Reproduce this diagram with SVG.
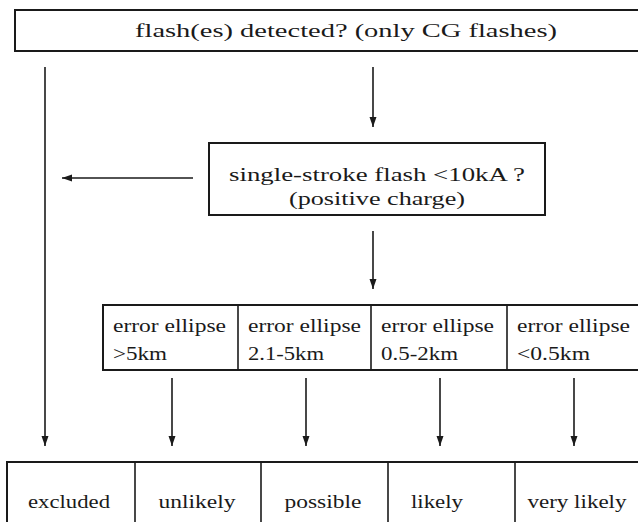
<svg xmlns="http://www.w3.org/2000/svg" width="638" height="522" viewBox="0 0 638 522">
<style>
.box{fill:#fff;stroke:#1a1a1a;stroke-width:2}
.ln{fill:none;stroke:#1a1a1a;stroke-width:1.6}
.tx{font-size:18px;fill:#1a1a1a}
.c{text-anchor:middle}
</style>
<defs>
<marker id="ah" viewBox="0 0 10 10" refX="10" refY="5" markerWidth="11" markerHeight="10" markerUnits="userSpaceOnUse" orient="auto">
<path d="M0,1.5 L10,5 L0,8.5 Z" fill="#1a1a1a"/>
</marker>
</defs>
<g id="connectors">
<line class="ln" x1="45" y1="67" x2="45" y2="446" marker-end="url(#ah)"/>
<line class="ln" x1="373" y1="67" x2="373" y2="127" marker-end="url(#ah)"/>
<line class="ln" x1="193" y1="178" x2="62" y2="178" marker-end="url(#ah)"/>
<line class="ln" x1="373" y1="231" x2="373" y2="289" marker-end="url(#ah)"/>
<line class="ln" x1="172" y1="378" x2="172" y2="446" marker-end="url(#ah)"/>
<line class="ln" x1="306" y1="378" x2="306" y2="446" marker-end="url(#ah)"/>
<line class="ln" x1="440" y1="378" x2="440" y2="446" marker-end="url(#ah)"/>
<line class="ln" x1="574" y1="378" x2="574" y2="446" marker-end="url(#ah)"/>
</g>
<g class="tx" font-family="Liberation Serif, Times New Roman, Times, DejaVu Serif, FreeSerif, serif">
<g id="flash-detected">
<rect class="box" x="15" y="10" width="640" height="41"/>
<text class="c" x="346" y="37" textLength="422" lengthAdjust="spacingAndGlyphs">flash(es) detected? (only CG flashes)</text>
</g>
<g id="single-stroke">
<rect class="box" x="209" y="143" width="336" height="72"/>
<text class="c" x="377" y="181" textLength="296" lengthAdjust="spacingAndGlyphs">single-stroke flash &lt;10kA ?</text>
<text class="c" x="377" y="205" textLength="176" lengthAdjust="spacingAndGlyphs">(positive charge)</text>
</g>
<g id="error-ellipse">
<rect class="box" x="103" y="305" width="540" height="65"/>
<line class="ln" x1="238" y1="305" x2="238" y2="370"/>
<line class="ln" x1="371" y1="305" x2="371" y2="370"/>
<line class="ln" x1="507" y1="305" x2="507" y2="370"/>
<text x="113" y="332" textLength="113" lengthAdjust="spacingAndGlyphs">error ellipse</text>
<text x="113" y="360" textLength="54" lengthAdjust="spacingAndGlyphs">&gt;5km</text>
<text x="248" y="332" textLength="113" lengthAdjust="spacingAndGlyphs">error ellipse</text>
<text x="248" y="360" textLength="76" lengthAdjust="spacingAndGlyphs">2.1-5km</text>
<text x="381" y="332" textLength="113" lengthAdjust="spacingAndGlyphs">error ellipse</text>
<text x="381" y="360" textLength="77" lengthAdjust="spacingAndGlyphs">0.5-2km</text>
<text x="517" y="332" textLength="113" lengthAdjust="spacingAndGlyphs">error ellipse</text>
<text x="517" y="360" textLength="73" lengthAdjust="spacingAndGlyphs">&lt;0.5km</text>
</g>
<g id="outcomes">
<rect class="box" x="7" y="462" width="640" height="80"/>
<line class="ln" x1="135" y1="462" x2="135" y2="530"/>
<line class="ln" x1="261" y1="462" x2="261" y2="530"/>
<line class="ln" x1="388" y1="462" x2="388" y2="530"/>
<line class="ln" x1="515" y1="462" x2="515" y2="530"/>
<text class="c" x="69" y="508" textLength="82" lengthAdjust="spacingAndGlyphs">excluded</text>
<text class="c" x="197" y="508" textLength="77" lengthAdjust="spacingAndGlyphs">unlikely</text>
<text class="c" x="323" y="508" textLength="77" lengthAdjust="spacingAndGlyphs">possible</text>
<text class="c" x="437" y="508" textLength="52" lengthAdjust="spacingAndGlyphs">likely</text>
<text class="c" x="577" y="508" textLength="99" lengthAdjust="spacingAndGlyphs">very likely</text>
</g>
</g>
</svg>
